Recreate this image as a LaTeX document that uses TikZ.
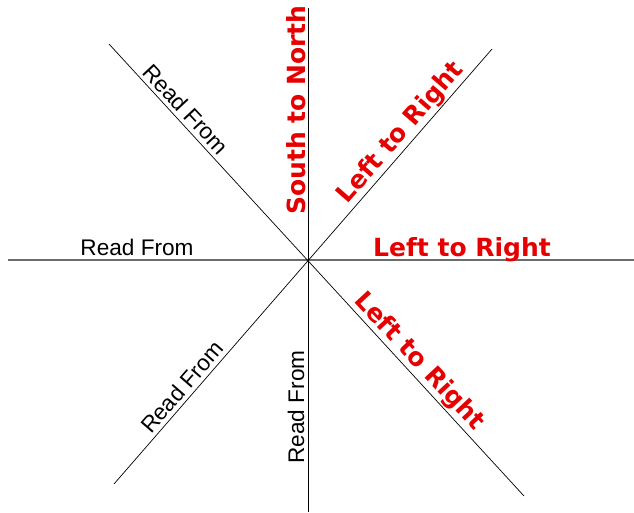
\documentclass[tikz,border=0pt]{standalone}
\usepackage{fontspec}
\setmainfont{Liberation Sans}
\newfontfamily\redfont{DejaVu Sans}
\definecolor{lblred}{RGB}{230,0,0}
\begin{document}
\begin{tikzpicture}[x=1pt,y=-1pt,
  axis/.style={line width=0.9pt,black},
  haxis/.style={line width=1.4pt,gray!85!black},
  diag/.style={line width=0.7pt,black},
  readlbl/.style={inner sep=0pt,font=\fontsize{22.6}{24}\selectfont},
  redlbl/.style={inner sep=0pt,text=lblred,font=\redfont\bfseries\fontsize{25}{27}\selectfont}]
\useasboundingbox (0,0) rectangle (634,512);
% end points
\coordinate (W) at (8,260);
\coordinate (E) at (634,260);
\coordinate (N) at (308,8);
\coordinate (S) at (308,512);
\coordinate (NW) at (109,44);
\coordinate (SE) at (524,496);
\coordinate (NE) at (492,49);
\coordinate (SW) at (114,484);
\draw[haxis] (W) -- (E);
\draw[axis] (N) -- (S);
\draw[diag] (NW) -- (SE);
\draw[diag] (NE) -- (SW);
% labels
\node[readlbl,anchor=base] (rfw) at (137,255) {Read From};
\node[readlbl,rotate=-47] (rfnw) at (186,109) {Read From};
\node[readlbl,rotate=49] (rfsw) at (182,387) {Read From};
\node[readlbl,rotate=90] (rfs) at (296,407) {Read From};
\node[redlbl,rotate=90] (sn) at (296,110) {South to North};
\node[redlbl,rotate=49] (ne) at (401,133) {Left to Right};
\node[redlbl,anchor=base] (e) at (462,256) {Left to Right};
\node[redlbl,rotate=-47] (se) at (419,362) {Left to Right};
\end{tikzpicture}
\end{document}
